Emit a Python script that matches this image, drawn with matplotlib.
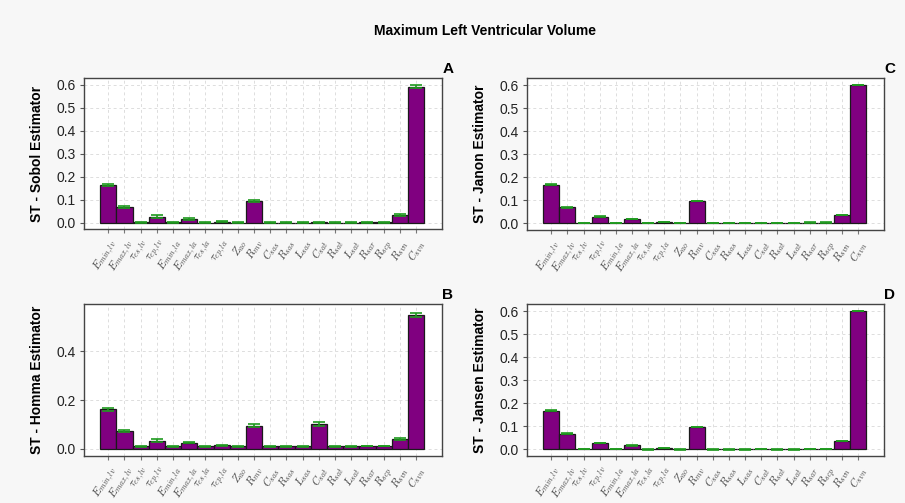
import matplotlib
matplotlib.use("Agg")
import matplotlib.pyplot as plt
import numpy as np

plt.rcParams['font.family'] = ['Liberation Sans', 'DejaVu Sans']
plt.rcParams['mathtext.fontset'] = 'cm'

params = [r'$E_{min,lv}$', r'$E_{max,lv}$', r'$\tau_{es,lv}$', r'$\tau_{ep,lv}$',
          r'$E_{min,la}$', r'$E_{max,la}$', r'$\tau_{es,la}$', r'$\tau_{ep,la}$',
          r'$Z_{ao}$', r'$R_{mv}$', r'$C_{sas}$', r'$R_{sas}$', r'$L_{sas}$',
          r'$C_{sat}$', r'$R_{sat}$', r'$L_{sat}$', r'$R_{sar}$', r'$R_{scp}$',
          r'$R_{svn}$', r'$C_{svn}$']

sobol = [0.164, 0.067, 0.001, 0.026, 0.001, 0.016, 0.0, 0.004, 0.0, 0.094,
         0.0, 0.0, 0.0, 0.002, 0.0, 0.0, 0.001, 0.001, 0.033, 0.593]
sobol_err = [0.006, 0.004, 0.001, 0.006, 0.001, 0.003, 0.001, 0.002, 0.001, 0.006,
             0.001, 0.001, 0.001, 0.002, 0.001, 0.001, 0.002, 0.001, 0.004, 0.007]

janon = [0.167, 0.068, 0.001, 0.028, 0.001, 0.017, 0.0, 0.005, 0.0, 0.096,
         0.0, 0.0, 0.0, 0.001, 0.0, 0.0, 0.002, 0.002, 0.035, 0.600]
janon_err = [0.002, 0.001, 0.001, 0.001, 0.001, 0.001, 0.001, 0.001, 0.001, 0.002,
             0.001, 0.001, 0.001, 0.001, 0.001, 0.001, 0.001, 0.001, 0.001, 0.002]

homma = [0.162, 0.073, 0.011, 0.034, 0.011, 0.026, 0.010, 0.015, 0.010, 0.095,
         0.010, 0.010, 0.010, 0.102, 0.010, 0.010, 0.012, 0.012, 0.041, 0.549]
homma_err = [0.007, 0.004, 0.002, 0.007, 0.002, 0.003, 0.002, 0.003, 0.002, 0.006,
             0.002, 0.002, 0.002, 0.010, 0.002, 0.002, 0.002, 0.002, 0.005, 0.008]

jansen = [0.167, 0.068, 0.001, 0.028, 0.001, 0.017, 0.0, 0.005, 0.0, 0.097,
          0.0, 0.0, 0.0, 0.001, 0.0, 0.0, 0.002, 0.002, 0.035, 0.600]
jansen_err = [0.002, 0.001, 0.001, 0.001, 0.001, 0.001, 0.001, 0.001, 0.001, 0.002,
              0.001, 0.001, 0.001, 0.001, 0.001, 0.001, 0.001, 0.001, 0.001, 0.002]

panels = [
    ('A', 'ST - Sobol Estimator', sobol, sobol_err, [0.0928, 0.5447, 0.3956, 0.300], (-0.028, 0.63), [0, 0.1, 0.2, 0.3, 0.4, 0.5, 0.6]),
    ('C', 'ST - Janon Estimator', janon, janon_err, [0.5823, 0.5427, 0.3945, 0.302], (-0.03, 0.63), [0, 0.1, 0.2, 0.3, 0.4, 0.5, 0.6]),
    ('B', 'ST - Homma Estimator', homma, homma_err, [0.0928, 0.0934, 0.3956, 0.302], (-0.029, 0.592), [0, 0.2, 0.4]),
    ('D', 'ST - Jansen Estimator', jansen, jansen_err, [0.5823, 0.0934, 0.3945, 0.302], (-0.029, 0.630), [0, 0.1, 0.2, 0.3, 0.4, 0.5, 0.6]),
]

fig = plt.figure(figsize=(9.05, 5.03), dpi=100)
fig.patch.set_facecolor('#f7f7f7')
fig.text(484.5 / 905, 1 - 31 / 503, 'Maximum Left Ventricular Volume', ha='center', va='center',
         fontsize=10, fontweight='bold')

x = np.arange(len(params))
for letter, ylab, vals, errs, pos, ylim, yt in panels:
    ax = fig.add_axes(pos)
    ax.set_facecolor('white')
    ax.set_axisbelow(True)
    ax.grid(True, linestyle=(0, (3, 3)), color='#dddddd', linewidth=0.7)
    ax.bar(x, vals, width=1.0, color='#800080', edgecolor='#1a1a1a', linewidth=0.9, zorder=2)
    ax.errorbar(x, vals, yerr=errs, fmt='none', ecolor='#1f9a1f', elinewidth=1.2,
                capsize=4.5, capthick=1.2, zorder=3)
    ax.set_xlim(-1.5, 20.6)
    ax.set_ylim(*ylim)
    ax.set_yticks(yt)
    ax.set_yticklabels([f'{v:.1f}' for v in yt], fontsize=10, color='#222222')
    ax.set_xticks(x)
    ax.set_xticklabels(params, rotation=58, ha='right', va='top', fontsize=8,
                       rotation_mode='anchor', color='#444444')
    ax.tick_params(axis='x', length=3, color='#777777', pad=3)
    ax.tick_params(axis='y', length=3, color='#555555', pad=3)
    for s in ax.spines.values():
        s.set_color('#444444')
        s.set_linewidth(1.0)
    ax.set_ylabel(ylab, fontsize=10, fontweight='bold')
    ax.yaxis.set_label_coords(-0.113, 0.5)
    fig.text(pos[0] + pos[2] + 0.0005, pos[1] + pos[3] + 0.004, letter,
             ha='left', va='bottom', fontsize=11, fontweight='bold')

fig.savefig('out.png', dpi=100, facecolor=fig.get_facecolor())
